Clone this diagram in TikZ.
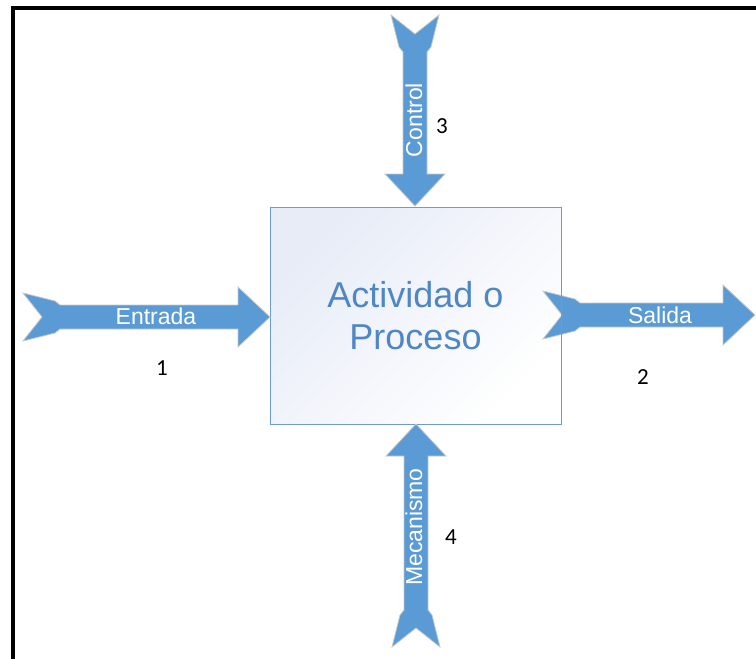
\documentclass[tikz,border=0pt]{standalone}
\usepackage{fontspec}
\setmainfont{Liberation Sans}
\newfontfamily\numfont{Carlito}

\definecolor{arrowblue}{RGB}{91,155,213}
\definecolor{arrowedge}{RGB}{200,200,200}
\definecolor{boxedge}{RGB}{108,155,210}
\definecolor{boxtext}{RGB}{79,135,196}
\definecolor{boxtop}{RGB}{231,236,247}
\definecolor{boxmid}{RGB}{246,248,252}

\tikzset{
  % notched block arrow lying along +x, tail end at the origin, tip at x=#1
  pics/blockarrow/.style={code={
    \path[blockfill] (0,24) -- (32,16) -- (37,12) -- (#1-32,12) -- (#1-32,30)
      -- (#1,0) -- (#1-32,-30) -- (#1-32,-12) -- (37,-12) -- (32,-16)
      -- (0,-24) -- (19,0) -- cycle;
  }},
  blockfill/.style={fill=arrowblue, draw=arrowedge, line width=0.8pt, line join=miter},
  procbox/.style={draw=boxedge, line width=1pt, minimum width=291pt, minimum height=217pt,
    inner sep=0pt, top color=boxtop, middle color=boxmid, bottom color=white, shading angle=45,
    text=boxtext, align=center, font=\fontsize{36}{42}\selectfont},
  arrowlabel/.style={text=white, font=\fontsize{23}{23}\selectfont, inner sep=0pt},
  numlabel/.style={font=\numfont\fontsize{23}{23}\selectfont, inner sep=0pt},
}

\begin{document}
\begin{tikzpicture}[x=1pt,y=-1pt]
\useasboundingbox (0,0) rectangle (756,659);

% frame lines on the left and top
\draw[line width=4pt, line join=miter] (13,659) -- (13,8) -- (756,8);

% the activity box
\node[procbox] (proc) at (415.5,315.5) {Actividad o\\Proceso};

% the four block arrows
\pic (inarrow) at (23,317) {blockarrow=247};
\pic (outarrow) at (543,315) {blockarrow=212};
\pic[rotate=-90] (ctrlarrow) at (415,15) {blockarrow=191};
\pic[rotate=90] (mecharrow) at (416,647) {blockarrow=223};

% right edge of the box stays visible over the output arrow tail
\draw[boxedge, line width=1pt] (proc.north east) -- (proc.south east);

% arrow captions (vertical ones read bottom to top)
\node[arrowlabel] (entrada) at (156,316) {Entrada};
\node[arrowlabel] (salida) at (660,315) {Salida};
\node[arrowlabel, rotate=90] (control) at (414,120) {Control};
\node[arrowlabel, rotate=90] (mecanismo) at (414,527) {Mecanismo};

% numbers
\node[numlabel] (n1) at (162,368) {1};
\node[numlabel] (n2) at (643,377) {2};
\node[numlabel] (n3) at (442,126) {3};
\node[numlabel] (n4) at (451,537) {4};
\end{tikzpicture}
\end{document}
